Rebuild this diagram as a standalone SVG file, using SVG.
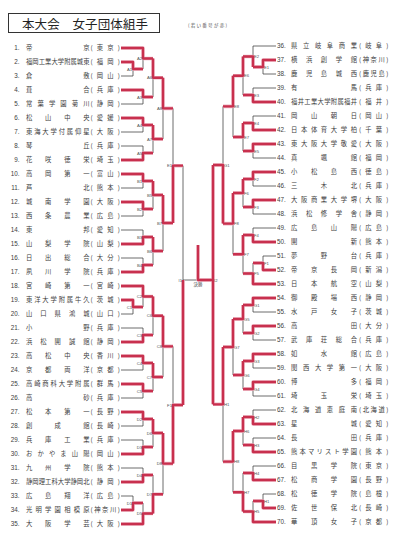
<svg xmlns="http://www.w3.org/2000/svg" width="405" height="551" viewBox="0 0 405 551">
<style>
.bg{fill:#ffffff}
.br{fill:none;stroke:#3c3c3c;stroke-width:0.75}
.halo{fill:none;stroke:#eeb4c2;stroke-width:3.6;stroke-linejoin:round}
.win{fill:none;stroke:#c8304e;stroke-width:2.3;stroke-linejoin:round}
.no{font-family:"Liberation Sans",Arial,sans-serif;font-size:6.3px;fill:#404040}
.L .no{text-anchor:end}
.nm,.pf{font-family:"Noto Sans CJK JP","Noto Sans CJK SC",sans-serif;font-size:6.3px;fill:#404040}
.lb{font-family:"Liberation Sans",Arial,sans-serif;font-size:4.2px;fill:#505050}
.lbl{text-anchor:end}
.ttl{font-family:"Noto Sans CJK JP","Noto Sans CJK SC",sans-serif;font-size:12.5px;fill:#222}
.note{font-family:"Noto Sans CJK JP","Noto Sans CJK SC",sans-serif;font-size:4.6px;fill:#555}
.fin{font-family:"Noto Sans CJK JP","Noto Sans CJK SC",sans-serif;font-size:4.4px;fill:#444;text-anchor:middle}
</style>
<rect class="bg" x="0" y="0" width="405" height="551"/>
<g id="title">
<rect x="8.5" y="13.5" width="151" height="19" fill="none" stroke="#333" stroke-width="1"/>
<text class="ttl" x="22" y="28.5" textLength="126" lengthAdjust="spacing">本大会　女子団体組手</text>
</g>
<g id="note"><text class="note" x="188" y="26.5" textLength="39" lengthAdjust="spacing">(若い番号が赤)</text></g>

<g id="connectors">
<path class="br" d="M121,62H133V76H121 M121,48H143V69H133 M121,90H143V104H121 M121,118H143V132H121 M121,146H143V160H121 M143,58.5H153V97H143 M143,125H153V153H143 M153,77.75H163V139H153 M121,174H143V188H121 M121,202H143V216H121 M121,230H143V244H121 M121,258H143V272H121 M143,181H153V209H143 M143,237H153V265H143 M153,195H163V251H153 M163,108.4H173V223H163 M121,300H133V314H121 M121,286H143V307H133 M121,328H143V342H121 M121,356H143V370H121 M121,384H143V398H121 M143,296.5H153V335H143 M143,363H153V391H143 M153,315.75H163V377H153 M121,412H143V426H121 M121,440H143V454H121 M121,468H143V482H121 M121,496H133V510H121 M133,503H143V524H121 M143,419H153V447H143 M143,475H153V513.5H143 M153,433H163V494.25H153 M163,346.4H173V463.6H163 M173,165.7H183V405H173 M183,280H213 M223,165H213V404.3H223"/>
<path class="br" d="M276,60H263V74H276 M276,46H253V67H263 M276,88H253V102H276 M276,116H253V130H276 M276,144H253V158H276 M253,56.5H243V95H253 M253,123H243V151H253 M243,75.75H233V137H243 M276,172H253V186H276 M276,200H253V214H276 M276,228H253V242H276 M276,256H263V270H276 M263,263H253V284H276 M253,179H243V207H253 M253,235H243V273.5H253 M243,193H233V254.25H243 M233,106.4H223V223.6H233 M276,298H253V312H276 M276,326H253V340H276 M276,354H253V368H276 M276,382H253V396H276 M253,305H243V333H253 M253,361H243V389H253 M243,319H233V375H243 M276,410H253V424H276 M276,438H253V452H276 M276,466H253V480H276 M276,494H263V508H276 M263,501H253V522H276 M253,417H243V445H253 M253,473H243V511.5H253 M243,431H233V492.25H243 M233,347H223V461.6H233"/>
<g id="winners">
<path id="win-path" class="halo" d="M121,62H133V69H143 M121,48H143V58.5H153 M121,90H143V97H153 M121,118H143V125H153 M121,160H143V153H153 M153,58.5V77.75H163 M153,125V139H163 M163,77.75V108.4H173 M121,174H143V181H153 M121,202H143V209H153 M121,244H143V237H153 M121,272H143V265H153 M153,181V195H163 M153,237V251H163 M163,195V223H173 M173,223V165.7H183 M121,300H133V307H143 M121,286H143V296.5H153 M121,342H143V335H153 M121,356H143V363H153 M121,384H143V391H153 M153,296.5V315.75H163 M153,363V377H163 M163,315.75V346.4H173 M121,412H143V419H153 M121,454H143V447H153 M121,482H143V475H153 M121,510H133V503H143 M121,524H143V513.5H153 M153,419V433H163 M153,513.5V494.25H163 M163,433V463.6H173 M173,463.6V405H183 M183,405V280 M276,60H263V67H253 M253,67V56.5H243 M276,102H253V95H243 M276,130H253V123H243 M276,144H253V151H243 M243,56.5V75.75H233 M243,123V137H233 M233,75.75V106.4H223 M276,172H253V179H243 M276,200H253V207H243 M276,242H253V235H243 M276,270H263V263H253 M276,284H253V273.5H243 M243,179V193H233 M243,235V254.25H233 M233,193V223.6H223 M223,223.6V165H213 M276,298H253V305H243 M276,326H253V333H243 M276,354H253V361H243 M276,382H253V389H243 M243,305V319H233 M243,361V375H233 M233,319V347H223 M276,424H253V417H243 M276,452H253V445H243 M276,480H253V473H243 M276,508H263V501H253 M276,522H253V511.5H243 M243,417V431H233 M243,511.5V492.25H233 M233,431V461.6H223 M223,347V404.3H213 M213,165V404.3 M213,280H198V245"/>
<path class="win" d="M121,62H133V69H143 M121,48H143V58.5H153 M121,90H143V97H153 M121,118H143V125H153 M121,160H143V153H153 M153,58.5V77.75H163 M153,125V139H163 M163,77.75V108.4H173 M121,174H143V181H153 M121,202H143V209H153 M121,244H143V237H153 M121,272H143V265H153 M153,181V195H163 M153,237V251H163 M163,195V223H173 M173,223V165.7H183 M121,300H133V307H143 M121,286H143V296.5H153 M121,342H143V335H153 M121,356H143V363H153 M121,384H143V391H153 M153,296.5V315.75H163 M153,363V377H163 M163,315.75V346.4H173 M121,412H143V419H153 M121,454H143V447H153 M121,482H143V475H153 M121,510H133V503H143 M121,524H143V513.5H153 M153,419V433H163 M153,513.5V494.25H163 M163,433V463.6H173 M173,463.6V405H183 M183,405V280 M276,60H263V67H253 M253,67V56.5H243 M276,102H253V95H243 M276,130H253V123H243 M276,144H253V151H243 M243,56.5V75.75H233 M243,123V137H233 M233,75.75V106.4H223 M276,172H253V179H243 M276,200H253V207H243 M276,242H253V235H243 M276,270H263V263H253 M276,284H253V273.5H243 M243,179V193H233 M243,235V254.25H233 M233,193V223.6H223 M223,223.6V165H213 M276,298H253V305H243 M276,326H253V333H243 M276,354H253V361H243 M276,382H253V389H243 M243,305V319H233 M243,361V375H233 M233,319V347H223 M276,424H253V417H243 M276,452H253V445H243 M276,480H253V473H243 M276,508H263V501H253 M276,522H253V511.5H243 M243,417V431H233 M243,511.5V492.25H233 M233,431V461.6H223 M223,347V404.3H213 M213,165V404.3 M213,280H198V245"/>
</g>
</g>

<g id="match-labels" class="lb">
<g class="lbl">
<text x="132" y="70.5">A1</text><text x="142" y="60">A2</text><text x="142" y="98.5">A3</text><text x="142" y="126.5">A4</text><text x="142" y="154.5">A5</text><text x="152" y="79.2">A6</text><text x="152" y="140.5">A7</text><text x="162" y="109.9">A8</text>
<text x="142" y="182.5">B1</text><text x="142" y="210.5">B2</text><text x="142" y="238.5">B3</text><text x="142" y="266.5">B4</text><text x="152" y="196.5">B5</text><text x="152" y="252.5">B6</text><text x="162" y="224.5">B7</text>
<text x="172" y="167.2">E1</text>
<text x="132" y="308.5">C1</text><text x="142" y="298">C2</text><text x="142" y="336.5">C3</text><text x="142" y="364.5">C4</text><text x="142" y="392.5">C5</text><text x="152" y="317.2">C6</text><text x="152" y="378.5">C7</text><text x="162" y="347.9">C8</text>
<text x="132" y="504.5">D1</text><text x="142" y="420.5">D2</text><text x="142" y="448.5">D3</text><text x="142" y="476.5">D4</text><text x="142" y="515">D5</text><text x="152" y="434.5">D6</text><text x="152" y="495.7">D7</text><text x="162" y="465.1">D8</text>
<text x="172" y="406.5">F1</text>
<text x="182" y="281.5">I1</text>
</g>
<text x="264" y="68.5">E1</text><text x="254" y="58">E2</text><text x="254" y="96.5">E3</text><text x="254" y="124.5">E4</text><text x="254" y="152.5">E5</text><text x="244" y="77.2">E6</text><text x="244" y="138.5">E7</text><text x="234" y="107.9">E8</text>
<text x="264" y="264.5">F1</text><text x="254" y="180.5">F2</text><text x="254" y="208.5">F3</text><text x="254" y="236.5">F4</text><text x="254" y="275">F5</text><text x="244" y="194.5">F6</text><text x="244" y="255.7">F7</text><text x="234" y="225.1">F8</text>
<text x="224" y="166.5">G1</text>
<text x="254" y="306.5">G1</text><text x="254" y="334.5">G2</text><text x="254" y="362.5">G3</text><text x="254" y="390.5">G4</text><text x="244" y="320.5">G5</text><text x="244" y="376.5">G6</text><text x="234" y="348.5">G7</text>
<text x="264" y="502.5">H1</text><text x="254" y="418.5">H2</text><text x="254" y="446.5">H3</text><text x="254" y="474.5">H4</text><text x="254" y="513">H5</text><text x="244" y="432.5">H6</text><text x="244" y="493.7">H7</text><text x="234" y="463.1">H8</text>
<text x="224" y="405.8">H1</text>
<text x="214" y="281.5">I2</text>
</g>
<g id="final"><text class="fin" x="198" y="286">決勝</text></g>

<g id="left-teams" class="L">
<g id="t1" transform="translate(0,50.3)"><text class="no" x="19.5">1.</text><text class="nm" x="26" textLength="63.5" lengthAdjust="spacing">帝京</text><text class="pf" x="90.5" textLength="29.5" lengthAdjust="spacing">(東京)</text></g>
<g id="t2" transform="translate(0,64.3)"><text class="no" x="19.5">2.</text><text class="nm" x="26" textLength="63.5" lengthAdjust="spacing">福岡工業大学附属城東</text><text class="pf" x="90.5" textLength="29.5" lengthAdjust="spacing">(福岡)</text></g>
<g id="t3" transform="translate(0,78.3)"><text class="no" x="19.5">3.</text><text class="nm" x="26" textLength="63.5" lengthAdjust="spacing">倉敷</text><text class="pf" x="90.5" textLength="29.5" lengthAdjust="spacing">(岡山)</text></g>
<g id="t4" transform="translate(0,92.3)"><text class="no" x="19.5">4.</text><text class="nm" x="26" textLength="63.5" lengthAdjust="spacing">葺合</text><text class="pf" x="90.5" textLength="29.5" lengthAdjust="spacing">(兵庫)</text></g>
<g id="t5" transform="translate(0,106.3)"><text class="no" x="19.5">5.</text><text class="nm" x="26" textLength="63.5" lengthAdjust="spacing">常葉学園菊川</text><text class="pf" x="90.5" textLength="29.5" lengthAdjust="spacing">(静岡)</text></g>
<g id="t6" transform="translate(0,120.3)"><text class="no" x="19.5">6.</text><text class="nm" x="26" textLength="63.5" lengthAdjust="spacing">松山中央</text><text class="pf" x="90.5" textLength="29.5" lengthAdjust="spacing">(愛媛)</text></g>
<g id="t7" transform="translate(0,134.3)"><text class="no" x="19.5">7.</text><text class="nm" x="26" textLength="63.5" lengthAdjust="spacing">東海大学付属仰星</text><text class="pf" x="90.5" textLength="29.5" lengthAdjust="spacing">(大阪)</text></g>
<g id="t8" transform="translate(0,148.3)"><text class="no" x="19.5">8.</text><text class="nm" x="26" textLength="63.5" lengthAdjust="spacing">琴丘</text><text class="pf" x="90.5" textLength="29.5" lengthAdjust="spacing">(兵庫)</text></g>
<g id="t9" transform="translate(0,162.3)"><text class="no" x="19.5">9.</text><text class="nm" x="26" textLength="63.5" lengthAdjust="spacing">花咲徳栄</text><text class="pf" x="90.5" textLength="29.5" lengthAdjust="spacing">(埼玉)</text></g>
<g id="t10" transform="translate(0,176.3)"><text class="no" x="19.5">10.</text><text class="nm" x="26" textLength="63.5" lengthAdjust="spacing">高岡第一</text><text class="pf" x="90.5" textLength="29.5" lengthAdjust="spacing">(富山)</text></g>
<g id="t11" transform="translate(0,190.3)"><text class="no" x="19.5">11.</text><text class="nm" x="26" textLength="63.5" lengthAdjust="spacing">芦北</text><text class="pf" x="90.5" textLength="29.5" lengthAdjust="spacing">(熊本)</text></g>
<g id="t12" transform="translate(0,204.3)"><text class="no" x="19.5">12.</text><text class="nm" x="26" textLength="63.5" lengthAdjust="spacing">城南学園</text><text class="pf" x="90.5" textLength="29.5" lengthAdjust="spacing">(大阪)</text></g>
<g id="t13" transform="translate(0,218.3)"><text class="no" x="19.5">13.</text><text class="nm" x="26" textLength="63.5" lengthAdjust="spacing">西条農業</text><text class="pf" x="90.5" textLength="29.5" lengthAdjust="spacing">(広島)</text></g>
<g id="t14" transform="translate(0,232.3)"><text class="no" x="19.5">14.</text><text class="nm" x="26" textLength="63.5" lengthAdjust="spacing">東邦</text><text class="pf" x="90.5" textLength="29.5" lengthAdjust="spacing">(愛知)</text></g>
<g id="t15" transform="translate(0,246.3)"><text class="no" x="19.5">15.</text><text class="nm" x="26" textLength="63.5" lengthAdjust="spacing">山梨学院</text><text class="pf" x="90.5" textLength="29.5" lengthAdjust="spacing">(山梨)</text></g>
<g id="t16" transform="translate(0,260.3)"><text class="no" x="19.5">16.</text><text class="nm" x="26" textLength="63.5" lengthAdjust="spacing">日出総合</text><text class="pf" x="90.5" textLength="29.5" lengthAdjust="spacing">(大分)</text></g>
<g id="t17" transform="translate(0,274.3)"><text class="no" x="19.5">17.</text><text class="nm" x="26" textLength="63.5" lengthAdjust="spacing">夙川学院</text><text class="pf" x="90.5" textLength="29.5" lengthAdjust="spacing">(兵庫)</text></g>
<g id="t18" transform="translate(0,288.3)"><text class="no" x="19.5">18.</text><text class="nm" x="26" textLength="63.5" lengthAdjust="spacing">宮崎第一</text><text class="pf" x="90.5" textLength="29.5" lengthAdjust="spacing">(宮崎)</text></g>
<g id="t19" transform="translate(0,302.3)"><text class="no" x="19.5">19.</text><text class="nm" x="26" textLength="63.5" lengthAdjust="spacing">東洋大学附属牛久</text><text class="pf" x="90.5" textLength="29.5" lengthAdjust="spacing">(茨城)</text></g>
<g id="t20" transform="translate(0,316.3)"><text class="no" x="19.5">20.</text><text class="nm" x="26" textLength="63.5" lengthAdjust="spacing">山口県鴻城</text><text class="pf" x="90.5" textLength="29.5" lengthAdjust="spacing">(山口)</text></g>
<g id="t21" transform="translate(0,330.3)"><text class="no" x="19.5">21.</text><text class="nm" x="26" textLength="63.5" lengthAdjust="spacing">小野</text><text class="pf" x="90.5" textLength="29.5" lengthAdjust="spacing">(兵庫)</text></g>
<g id="t22" transform="translate(0,344.3)"><text class="no" x="19.5">22.</text><text class="nm" x="26" textLength="63.5" lengthAdjust="spacing">浜松開誠館</text><text class="pf" x="90.5" textLength="29.5" lengthAdjust="spacing">(静岡)</text></g>
<g id="t23" transform="translate(0,358.3)"><text class="no" x="19.5">23.</text><text class="nm" x="26" textLength="63.5" lengthAdjust="spacing">高松中央</text><text class="pf" x="90.5" textLength="29.5" lengthAdjust="spacing">(香川)</text></g>
<g id="t24" transform="translate(0,372.3)"><text class="no" x="19.5">24.</text><text class="nm" x="26" textLength="63.5" lengthAdjust="spacing">京都両洋</text><text class="pf" x="90.5" textLength="29.5" lengthAdjust="spacing">(京都)</text></g>
<g id="t25" transform="translate(0,386.3)"><text class="no" x="19.5">25.</text><text class="nm" x="26" textLength="63.5" lengthAdjust="spacing">高崎商科大学附属</text><text class="pf" x="90.5" textLength="29.5" lengthAdjust="spacing">(群馬)</text></g>
<g id="t26" transform="translate(0,400.3)"><text class="no" x="19.5">26.</text><text class="nm" x="26" textLength="63.5" lengthAdjust="spacing">高砂</text><text class="pf" x="90.5" textLength="29.5" lengthAdjust="spacing">(兵庫)</text></g>
<g id="t27" transform="translate(0,414.3)"><text class="no" x="19.5">27.</text><text class="nm" x="26" textLength="63.5" lengthAdjust="spacing">松本第一</text><text class="pf" x="90.5" textLength="29.5" lengthAdjust="spacing">(長野)</text></g>
<g id="t28" transform="translate(0,428.3)"><text class="no" x="19.5">28.</text><text class="nm" x="26" textLength="63.5" lengthAdjust="spacing">創成館</text><text class="pf" x="90.5" textLength="29.5" lengthAdjust="spacing">(長崎)</text></g>
<g id="t29" transform="translate(0,442.3)"><text class="no" x="19.5">29.</text><text class="nm" x="26" textLength="63.5" lengthAdjust="spacing">兵庫工業</text><text class="pf" x="90.5" textLength="29.5" lengthAdjust="spacing">(兵庫)</text></g>
<g id="t30" transform="translate(0,456.3)"><text class="no" x="19.5">30.</text><text class="nm" x="26" textLength="63.5" lengthAdjust="spacing">おかやま山陽</text><text class="pf" x="90.5" textLength="29.5" lengthAdjust="spacing">(岡山)</text></g>
<g id="t31" transform="translate(0,470.3)"><text class="no" x="19.5">31.</text><text class="nm" x="26" textLength="63.5" lengthAdjust="spacing">九州学院</text><text class="pf" x="90.5" textLength="29.5" lengthAdjust="spacing">(熊本)</text></g>
<g id="t32" transform="translate(0,484.3)"><text class="no" x="19.5">32.</text><text class="nm" x="26" textLength="63.5" lengthAdjust="spacing">静岡理工科大学静岡北</text><text class="pf" x="90.5" textLength="29.5" lengthAdjust="spacing">(静岡)</text></g>
<g id="t33" transform="translate(0,498.3)"><text class="no" x="19.5">33.</text><text class="nm" x="26" textLength="63.5" lengthAdjust="spacing">広島翔洋</text><text class="pf" x="90.5" textLength="29.5" lengthAdjust="spacing">(広島)</text></g>
<g id="t34" transform="translate(0,512.3)"><text class="no" x="19.5">34.</text><text class="nm" x="26" textLength="63.5" lengthAdjust="spacing">光明学園相模原</text><text class="pf" x="90.5" textLength="29.5" lengthAdjust="spacing">(神奈川)</text></g>
<g id="t35" transform="translate(0,526.3)"><text class="no" x="19.5">35.</text><text class="nm" x="26" textLength="63.5" lengthAdjust="spacing">大阪学芸</text><text class="pf" x="90.5" textLength="29.5" lengthAdjust="spacing">(大阪)</text></g>
</g>

<g id="right-teams">
<g id="t36" transform="translate(0,48.3)"><text class="no" x="277">36.</text><text class="nm" x="291" textLength="66" lengthAdjust="spacing">県立岐阜商業</text><text class="pf" x="359" textLength="29.5" lengthAdjust="spacing">(岐阜)</text></g>
<g id="t37" transform="translate(0,62.3)"><text class="no" x="277">37.</text><text class="nm" x="291" textLength="66" lengthAdjust="spacing">横浜創学館</text><text class="pf" x="359" textLength="29.5" lengthAdjust="spacing">(神奈川)</text></g>
<g id="t38" transform="translate(0,76.3)"><text class="no" x="277">38.</text><text class="nm" x="291" textLength="66" lengthAdjust="spacing">鹿児島城西</text><text class="pf" x="359" textLength="29.5" lengthAdjust="spacing">(鹿児島)</text></g>
<g id="t39" transform="translate(0,90.3)"><text class="no" x="277">39.</text><text class="nm" x="291" textLength="66" lengthAdjust="spacing">有馬</text><text class="pf" x="359" textLength="29.5" lengthAdjust="spacing">(兵庫)</text></g>
<g id="t40" transform="translate(0,104.3)"><text class="no" x="277">40.</text><text class="nm" x="291" textLength="66" lengthAdjust="spacing">福井工業大学附属福井</text><text class="pf" x="359" textLength="29.5" lengthAdjust="spacing">(福井)</text></g>
<g id="t41" transform="translate(0,118.3)"><text class="no" x="277">41.</text><text class="nm" x="291" textLength="66" lengthAdjust="spacing">岡山朝日</text><text class="pf" x="359" textLength="29.5" lengthAdjust="spacing">(岡山)</text></g>
<g id="t42" transform="translate(0,132.3)"><text class="no" x="277">42.</text><text class="nm" x="291" textLength="66" lengthAdjust="spacing">日本体育大学柏</text><text class="pf" x="359" textLength="29.5" lengthAdjust="spacing">(千葉)</text></g>
<g id="t43" transform="translate(0,146.3)"><text class="no" x="277">43.</text><text class="nm" x="291" textLength="66" lengthAdjust="spacing">東大阪大学敬愛</text><text class="pf" x="359" textLength="29.5" lengthAdjust="spacing">(大阪)</text></g>
<g id="t44" transform="translate(0,160.3)"><text class="no" x="277">44.</text><text class="nm" x="291" textLength="66" lengthAdjust="spacing">真颯館</text><text class="pf" x="359" textLength="29.5" lengthAdjust="spacing">(福岡)</text></g>
<g id="t45" transform="translate(0,174.3)"><text class="no" x="277">45.</text><text class="nm" x="291" textLength="66" lengthAdjust="spacing">小松島西</text><text class="pf" x="359" textLength="29.5" lengthAdjust="spacing">(徳島)</text></g>
<g id="t46" transform="translate(0,188.3)"><text class="no" x="277">46.</text><text class="nm" x="291" textLength="66" lengthAdjust="spacing">三木北</text><text class="pf" x="359" textLength="29.5" lengthAdjust="spacing">(兵庫)</text></g>
<g id="t47" transform="translate(0,202.3)"><text class="no" x="277">47.</text><text class="nm" x="291" textLength="66" lengthAdjust="spacing">大阪商業大学堺</text><text class="pf" x="359" textLength="29.5" lengthAdjust="spacing">(大阪)</text></g>
<g id="t48" transform="translate(0,216.3)"><text class="no" x="277">48.</text><text class="nm" x="291" textLength="66" lengthAdjust="spacing">浜松修学舎</text><text class="pf" x="359" textLength="29.5" lengthAdjust="spacing">(静岡)</text></g>
<g id="t49" transform="translate(0,230.3)"><text class="no" x="277">49.</text><text class="nm" x="291" textLength="66" lengthAdjust="spacing">広島山陽</text><text class="pf" x="359" textLength="29.5" lengthAdjust="spacing">(広島)</text></g>
<g id="t50" transform="translate(0,244.3)"><text class="no" x="277">50.</text><text class="nm" x="291" textLength="66" lengthAdjust="spacing">開新</text><text class="pf" x="359" textLength="29.5" lengthAdjust="spacing">(熊本)</text></g>
<g id="t51" transform="translate(0,258.3)"><text class="no" x="277">51.</text><text class="nm" x="291" textLength="66" lengthAdjust="spacing">夢野台</text><text class="pf" x="359" textLength="29.5" lengthAdjust="spacing">(兵庫)</text></g>
<g id="t52" transform="translate(0,272.3)"><text class="no" x="277">52.</text><text class="nm" x="291" textLength="66" lengthAdjust="spacing">帝京長岡</text><text class="pf" x="359" textLength="29.5" lengthAdjust="spacing">(新潟)</text></g>
<g id="t53" transform="translate(0,286.3)"><text class="no" x="277">53.</text><text class="nm" x="291" textLength="66" lengthAdjust="spacing">日本航空</text><text class="pf" x="359" textLength="29.5" lengthAdjust="spacing">(山梨)</text></g>
<g id="t54" transform="translate(0,300.3)"><text class="no" x="277">54.</text><text class="nm" x="291" textLength="66" lengthAdjust="spacing">御殿場西</text><text class="pf" x="359" textLength="29.5" lengthAdjust="spacing">(静岡)</text></g>
<g id="t55" transform="translate(0,314.3)"><text class="no" x="277">55.</text><text class="nm" x="291" textLength="66" lengthAdjust="spacing">水戸女子</text><text class="pf" x="359" textLength="29.5" lengthAdjust="spacing">(茨城)</text></g>
<g id="t56" transform="translate(0,328.3)"><text class="no" x="277">56.</text><text class="nm" x="291" textLength="66" lengthAdjust="spacing">高田</text><text class="pf" x="359" textLength="29.5" lengthAdjust="spacing">(大分)</text></g>
<g id="t57" transform="translate(0,342.3)"><text class="no" x="277">57.</text><text class="nm" x="291" textLength="66" lengthAdjust="spacing">武庫荘総合</text><text class="pf" x="359" textLength="29.5" lengthAdjust="spacing">(兵庫)</text></g>
<g id="t58" transform="translate(0,356.3)"><text class="no" x="277">58.</text><text class="nm" x="291" textLength="66" lengthAdjust="spacing">如水館</text><text class="pf" x="359" textLength="29.5" lengthAdjust="spacing">(広島)</text></g>
<g id="t59" transform="translate(0,370.3)"><text class="no" x="277">59.</text><text class="nm" x="291" textLength="66" lengthAdjust="spacing">関西大学第一</text><text class="pf" x="359" textLength="29.5" lengthAdjust="spacing">(大阪)</text></g>
<g id="t60" transform="translate(0,384.3)"><text class="no" x="277">60.</text><text class="nm" x="291" textLength="66" lengthAdjust="spacing">博多</text><text class="pf" x="359" textLength="29.5" lengthAdjust="spacing">(福岡)</text></g>
<g id="t61" transform="translate(0,398.3)"><text class="no" x="277">61.</text><text class="nm" x="291" textLength="66" lengthAdjust="spacing">埼玉栄</text><text class="pf" x="359" textLength="29.5" lengthAdjust="spacing">(埼玉)</text></g>
<g id="t62" transform="translate(0,412.3)"><text class="no" x="277">62.</text><text class="nm" x="291" textLength="66" lengthAdjust="spacing">北海道恵庭南</text><text class="pf" x="359" textLength="29.5" lengthAdjust="spacing">(北海道)</text></g>
<g id="t63" transform="translate(0,426.3)"><text class="no" x="277">63.</text><text class="nm" x="291" textLength="66" lengthAdjust="spacing">星城</text><text class="pf" x="359" textLength="29.5" lengthAdjust="spacing">(愛知)</text></g>
<g id="t64" transform="translate(0,440.3)"><text class="no" x="277">64.</text><text class="nm" x="291" textLength="66" lengthAdjust="spacing">長田</text><text class="pf" x="359" textLength="29.5" lengthAdjust="spacing">(兵庫)</text></g>
<g id="t65" transform="translate(0,454.3)"><text class="no" x="277">65.</text><text class="nm" x="291" textLength="66" lengthAdjust="spacing">熊本マリスト学園</text><text class="pf" x="359" textLength="29.5" lengthAdjust="spacing">(熊本)</text></g>
<g id="t66" transform="translate(0,468.3)"><text class="no" x="277">66.</text><text class="nm" x="291" textLength="66" lengthAdjust="spacing">目黒学院</text><text class="pf" x="359" textLength="29.5" lengthAdjust="spacing">(東京)</text></g>
<g id="t67" transform="translate(0,482.3)"><text class="no" x="277">67.</text><text class="nm" x="291" textLength="66" lengthAdjust="spacing">松商学園</text><text class="pf" x="359" textLength="29.5" lengthAdjust="spacing">(長野)</text></g>
<g id="t68" transform="translate(0,496.3)"><text class="no" x="277">68.</text><text class="nm" x="291" textLength="66" lengthAdjust="spacing">松徳学院</text><text class="pf" x="359" textLength="29.5" lengthAdjust="spacing">(島根)</text></g>
<g id="t69" transform="translate(0,510.3)"><text class="no" x="277">69.</text><text class="nm" x="291" textLength="66" lengthAdjust="spacing">佐世保北</text><text class="pf" x="359" textLength="29.5" lengthAdjust="spacing">(長崎)</text></g>
<g id="t70" transform="translate(0,524.3)"><text class="no" x="277">70.</text><text class="nm" x="291" textLength="66" lengthAdjust="spacing">華頂女子</text><text class="pf" x="359" textLength="29.5" lengthAdjust="spacing">(京都)</text></g>
</g>
</svg>
